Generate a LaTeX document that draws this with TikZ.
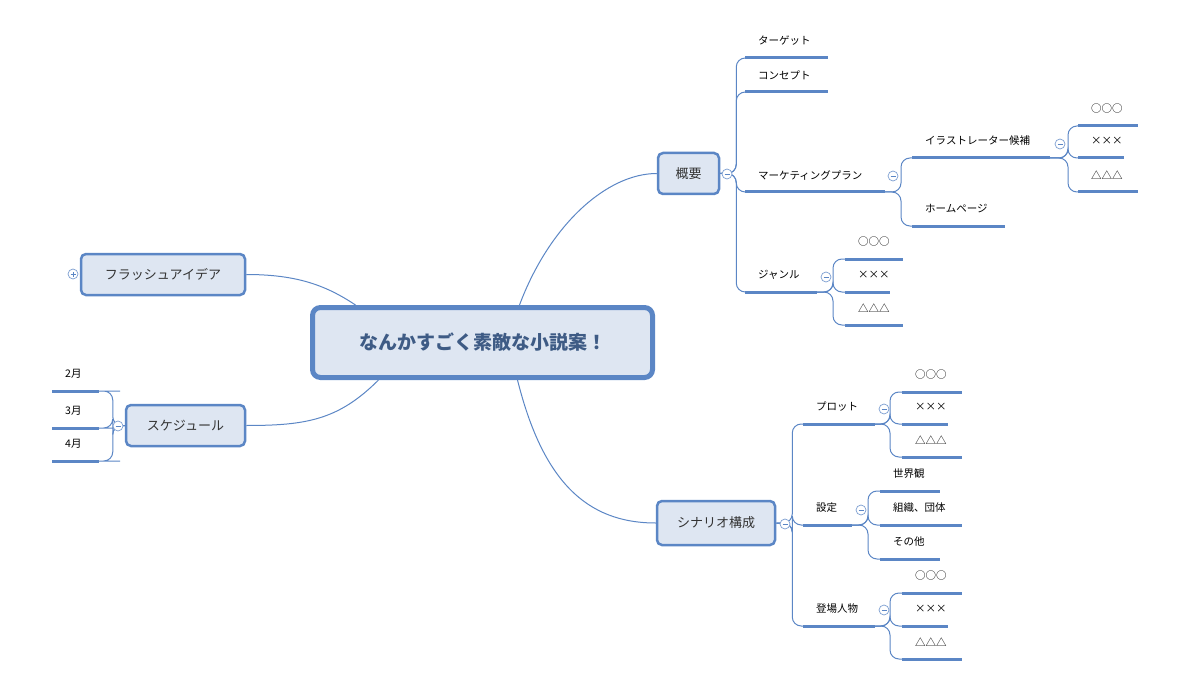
\documentclass[tikz,border=0pt]{standalone}
\usepackage{fontspec}
\setmainfont{Noto Sans CJK JP}
\usetikzlibrary{calc}
\definecolor{mmblue}{HTML}{5B86C5}
\definecolor{mmfill}{HTML}{DEE6F2}
\definecolor{mmtitle}{HTML}{3E5B85}
\tikzset{
 box/.style={draw=mmblue,fill=mmfill,line width=2.5pt,rounded corners=5pt,font=\fontsize{13}{15}\selectfont,text=black!80,inner sep=0pt},
 leafline/.style={draw=mmblue,line width=3pt},
 leaftext/.style={font=\fontsize{10.5}{12}\selectfont,inner sep=0pt,anchor=west},
 branch/.style={draw=mmblue,line width=1pt,rounded corners=9pt},
 curve/.style={draw=mmblue,line width=1pt},
 tog/.style={circle,draw=mmblue!80,fill=white,line width=0.7pt,minimum size=10pt,inner sep=0pt},
}
\newcommand\mmleaf[5]{%
 \coordinate (#1) at (#2,#4);
 \coordinate (#1e) at (#3,#4);
 \draw[leafline] (#1) -- (#1e);
 \node[leaftext] (#1t) at (#2+13,#4-17) {#5};}
\newcommand\mmminus[2]{%
 \node[tog] (#1) at (#2) {};
 \draw[mmblue,line width=0.7pt] ([xshift=-2.5pt]#1.center) -- ([xshift=2.5pt]#1.center);}
\begin{document}
\begin{tikzpicture}[x=1pt,y=-1pt]
\useasboundingbox (0,0) rectangle (1200,690);
\node[box,line width=5pt,rounded corners=8pt,minimum width=340pt,minimum height=70pt,font=\fontsize{19}{22}\selectfont\bfseries,text=mmtitle] (c) at (482.5,342.5) {なんかすごく素敵な小説案！};
\node[box,minimum width=61pt,minimum height=41pt] (g) at (688.5,173.5) {概要};
\node[box,minimum width=164pt,minimum height=41pt] (f) at (163,274.5) {フラッシュアイデア};
\node[box,minimum width=119pt,minimum height=41pt] (s) at (185.5,425.5) {スケジュール};
\node[box,minimum width=118pt,minimum height=44pt] (sc) at (716,523) {シナリオ構成};
\draw[curve] ([xshift=37pt]c.north) .. controls +(30,-80) and +(-50,0) .. (g.west);
\draw[curve] ([xshift=-127pt]c.north) .. controls +(-30,-20) and +(50,0) .. (f.east);
\draw[curve] ([xshift=-104pt]c.south) .. controls +(-40,40) and +(60,0) .. (s.east);
\draw[curve] ([xshift=35pt]c.south) .. controls +(25,100) and +(-70,0) .. (sc.west);
\mmleaf{a1}{745}{828}{58}{ターゲット}
\mmleaf{a2}{745}{828}{92}{コンセプト}
\mmleaf{a3}{745}{885}{192}{マーケティングプラン}
\mmleaf{a4}{745}{817}{292}{ジャンル}
\foreach \n in {a1,a2,a3,a4} \draw[branch] (g.east) -- ++(16,0) |- (\n);
\mmminus{gt}{727,174}
\mmleaf{m1}{912}{1050}{158}{イラストレーター候補}
\mmleaf{m2}{912}{1005}{226}{ホームページ}
\foreach \n in {m1,m2} \draw[branch] (a3e) -- ++(16,0) |- (\n);
\mmminus{mt}{893,176}
\mmleaf{i1}{1078}{1138}{126}{○○○}
\mmleaf{i2}{1078}{1124}{158}{×××}
\mmleaf{i3}{1078}{1138}{192}{△△△}
\foreach \n in {i1,i2,i3} \draw[branch] (m1e) -- ++(18,0) |- (\n);
\mmminus{it}{1060,144}
\mmleaf{j1}{845}{903}{259}{○○○}
\mmleaf{j2}{845}{890}{292}{×××}
\mmleaf{j3}{845}{903}{325}{△△△}
\foreach \n in {j1,j2,j3} \draw[branch] (a4e) -- ++(16,0) |- (\n);
\mmminus{jt}{826,277}
\mmminus{ft}{73,274}
\draw[mmblue,line width=0.7pt] ([yshift=-2.5pt]ft.center) -- ([yshift=2.5pt]ft.center);
\mmleaf{s1}{52}{99}{391}{2月}
\mmleaf{s2}{52}{99}{428}{3月}
\mmleaf{s3}{52}{99}{461}{4月}
\foreach \n in {s1,s2,s3} \draw[branch] (s.west) -- ++(-12,0) |- ([xshift=12pt]\n e) -- (\n e);
\mmminus{st}{118,426}
\mmleaf{p1}{803}{875}{424}{プロット}
\mmleaf{p2}{803}{852}{525}{設定}
\mmleaf{p3}{803}{875}{626}{登場人物}
\foreach \n in {p1,p2,p3} \draw[branch] (sc.east) -- ++(16,0) |- (\n);
\mmminus{sct}{785,524}
\mmleaf{q1}{902}{962}{392}{○○○}
\mmleaf{q2}{902}{948}{424}{×××}
\mmleaf{q3}{902}{962}{457}{△△△}
\foreach \n in {q1,q2,q3} \draw[branch] (p1e) -- ++(15,0) |- (\n);
\mmminus{qt}{884,409}
\mmleaf{r1}{880}{940}{491}{世界観}
\mmleaf{r2}{880}{962}{525}{組織、団体}
\mmleaf{r3}{880}{940}{559}{その他}
\foreach \n in {r1,r2,r3} \draw[branch] (p2e) -- ++(16,0) |- (\n);
\mmminus{rt}{861,510}
\mmleaf{u1}{902}{962}{593}{○○○}
\mmleaf{u2}{902}{948}{626}{×××}
\mmleaf{u3}{902}{962}{659}{△△△}
\foreach \n in {u1,u2,u3} \draw[branch] (p3e) -- ++(15,0) |- (\n);
\mmminus{ut}{884,610}
\end{tikzpicture}
\end{document}
